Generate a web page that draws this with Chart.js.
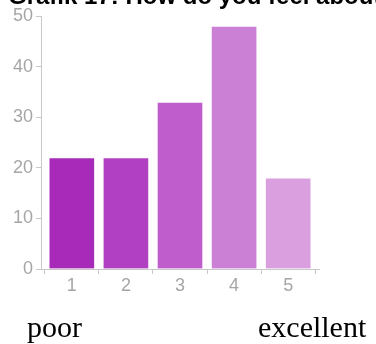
<!DOCTYPE html>
<html>
<head>
<meta charset="utf-8">
<script src="https://cdn.jsdelivr.net/npm/chart.js@4"></script>
<style>
  html, body { margin: 0; padding: 0; background: #fff; }
  #wrap { position: relative; width: 376px; height: 344px; overflow: hidden; }
  #chart { position: absolute; left: 0; top: 0; }
  .title {
    position: absolute; left: 8px; top: -16px; white-space: nowrap;
    font: bold 24px/24px "Liberation Sans", Arial, sans-serif; color: #000;
  }
  .scale-word {
    position: absolute; top: 312px;
    font: 30px/30px "Liberation Serif", "Times New Roman", serif; color: #000;
  }
</style>
</head>
<body>
<div id="wrap">
  <canvas id="chart" width="376" height="344"></canvas>
  <div class="title">Grafik 17: How do you feel about</div>
  <div class="scale-word" style="left:27px">poor</div>
  <div class="scale-word" style="left:258px">excellent</div>
</div>
<script>
"use strict";

// rating categories (1 = poor, 5 = excellent)
const categories = ["1", "2", "3", "4", "5"];
// number of answers per rating
const answers = [22, 22, 33, 48, 18];
// y axis ticks
const yTicks = [0, 10, 20, 30, 40, 50];

const barColors = ["#a72ab9", "#b240c2", "#c05dcc", "#cb80d6", "#d99fdf"];

// bars are placed on a linear x scale so the axis can run a bit past the outer bars
const points = categories.map((c, i) => ({ x: Number(c), y: answers[i] }));

const config = {
  type: "bar",
  data: {
    datasets: [{
      label: "Answers",
      data: points,
      backgroundColor: barColors,
      borderColor: "rgba(255,255,255,0.35)",
      borderWidth: 1,
      barThickness: 46,
    }],
  },
  options: {
    responsive: false,
    animation: false,
    layout: { padding: { top: 16, right: 57, left: 0, bottom: 0 } },
    plugins: {
      legend: { display: false },
      tooltip: { enabled: false },
    },
    scales: {
      x: {
        type: "linear",
        min: 0.43,
        max: 5.57,
        offset: false,
        afterFit: (scale) => { scale.height = 75; },
        grid: { drawOnChartArea: false, drawTicks: true, tickLength: 5, color: "#c8c8c8" },
        border: { color: "#c8c8c8", width: 1 },
        ticks: {
          stepSize: 1,
          includeBounds: false,
          padding: 1,
          color: "#a6a6a6",
          font: { family: "Liberation Sans", size: 18 },
          callback: (v) => categories[v - 1],
        },
      },
      y: {
        min: yTicks[0],
        max: yTicks[yTicks.length - 1],
        afterFit: (scale) => { scale.width = 41; },
        grid: { drawOnChartArea: false, drawTicks: true, tickLength: 5, color: "#c8c8c8" },
        border: { color: "#c8c8c8", width: 1 },
        ticks: {
          stepSize: 10,
          padding: 3,
          color: "#a6a6a6",
          font: { family: "Liberation Sans", size: 18 },
        },
      },
    },
  },
};

new Chart(document.querySelector("#chart"), config);
</script>
</body>
</html>
